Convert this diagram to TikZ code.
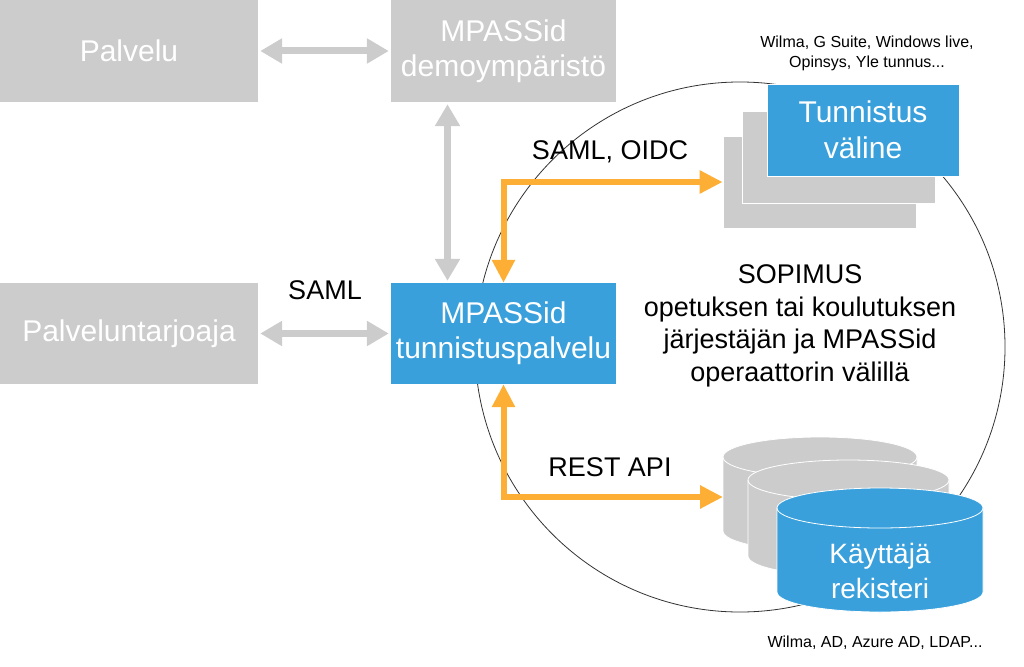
\documentclass[tikz,border=0pt]{standalone}
\usepackage{fontspec}
\setmainfont{Liberation Sans}
\usetikzlibrary{arrows.meta}
\definecolor{boxgray}{HTML}{CCCCCC}
\definecolor{mpblue}{HTML}{39A0DC}
\definecolor{arrorange}{HTML}{FDAE34}

\begin{document}
\begin{tikzpicture}[x=1pt, y=-1pt,
    box/.style={fill=boxgray, text=white, inner sep=0pt, align=center, font=\fontsize{30}{35}\selectfont},
    bluebox/.style={box, fill=mpblue},
    boxtext/.style={text=white, inner sep=0pt, align=center, font=\fontsize{28}{35}\selectfont},
    grayarrow/.style={draw=boxgray, line width=7pt, shorten <=2pt, shorten >=2pt,
      {Triangle[length=22pt,width=24pt]}-{Triangle[length=22pt,width=24pt]}},
    orangearrow/.style={draw=arrorange, line width=6pt,
      {Triangle[length=23pt,width=22pt]}-{Triangle[length=23pt,width=22pt]}},
    lbl/.style={inner sep=0pt, align=center, font=\fontsize{27}{32.7}\selectfont},
    smalltext/.style={inner sep=0pt, align=center, font=\fontsize{16}{20}\selectfont}]
    \useasboundingbox (0,0) rectangle (1024,666);

    \draw[black!80, line width=0.8pt] (740,347) circle[radius=265pt];

    \node[box, minimum width=258pt, minimum height=102pt] (palvelu) at (129,51) {Palvelu};
    \node[box, minimum width=225pt, minimum height=102pt] (demo) at (503.5,51) {MPASSid\\demoympäristö};
    \node[box, minimum width=258pt, minimum height=101pt] (tarjoaja) at (129,333.5) {Palveluntarjoaja};
    \node[bluebox, minimum width=225pt, minimum height=101pt] (tunnistus) at (503.5,333.5) {MPASSid\\tunnistuspalvelu};

    \node[box, draw=white, line width=0.8pt, minimum width=193pt, minimum height=92pt] (vaback) at (819.5,182) {};
    \node[box, draw=white, line width=0.8pt, minimum width=193pt, minimum height=92pt] (vamid) at (838.5,157) {};
    \node[bluebox, draw=white, line width=0.8pt, minimum width=192pt, minimum height=92pt,
      font=\fontsize{30}{36}\selectfont] (valine) at (863,130) {Tunnistus\\väline};

    \draw[grayarrow] (palvelu) -- (demo);
    \draw[grayarrow] (tarjoaja) -- (tunnistus);
    \draw[grayarrow] ([xshift=-56pt]demo.south) -- ([xshift=-56pt]tunnistus.north);

    \coordinate (dbin) at (723,497);
    \draw[orangearrow] (vaback.west) -| (tunnistus.north);
    \draw[orangearrow] (tunnistus.south) |- (dbin);

    \foreach \l/\r/\t/\b/\c in {723/917/437/551/boxgray, 748/949/460/576/boxgray, 777/983/488/612/mpblue} {
      \pgfmathsetmacro\rx{(\r-\l)/2}
      \filldraw[fill=\c, draw=white, line width=0.8pt]
        (\l,\t+20) -- (\l,\b-20) arc[start angle=180, end angle=360, x radius=\rx pt, y radius=20pt]
        -- (\r,\t+20) arc[start angle=0, end angle=180, x radius=\rx pt, y radius=20pt] -- cycle;
      \draw[white, line width=0.8pt] (\l,\t+20) arc[start angle=180, end angle=360, x radius=\rx pt, y radius=20pt];
    }
    \node[boxtext] (rekisteri) at (880,571) {Käyttäjä\\rekisteri};

    \node[lbl] (saml) at (325,290) {SAML};
    \node[lbl] (samloidc) at (610,152) {SAML, OIDC};
    \node[lbl] (restapi) at (610,467) {REST API};
    \node[lbl] (sopimus) at (800,326) {SOPIMUS\\opetuksen tai koulutuksen\\järjestäjän ja MPASSid\\operaattorin välillä};
    \node[smalltext] (vaesim) at (867,53) {Wilma, G Suite, Windows live,\\Opinsys, Yle tunnus...};
    \node[smalltext] (rekesim) at (875,643) {Wilma, AD, Azure AD, LDAP...};
\end{tikzpicture}
\end{document}
